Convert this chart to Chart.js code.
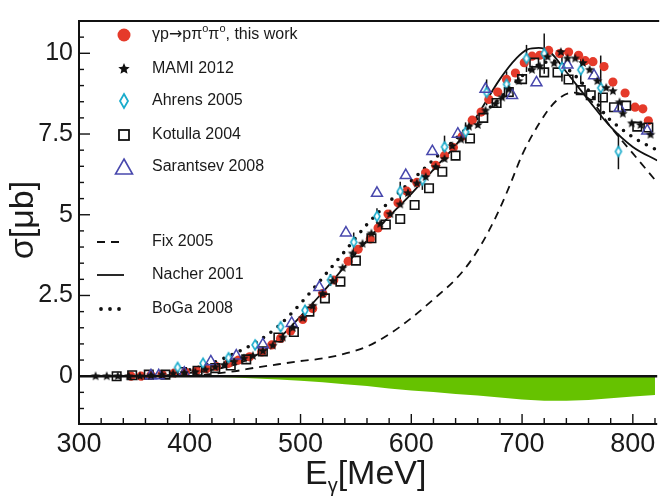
<!DOCTYPE html>
<html>
<head>
<meta charset="utf-8">
<script src="https://cdn.jsdelivr.net/npm/chart.js@4"></script>
<style>
  html, body { margin: 0; padding: 0; background: #fff; }
</style>
</head>
<body>
<canvas id="c" width="665" height="497"></canvas>
<script>
// ── Data ───────────────────────────────────────────────────
const thisWorkE = [347, 356, 365, 375, 386, 396, 406, 415, 424, 435, 444, 454, 465, 474, 482, 491, 502, 511, 520, 530,
  543, 552, 563, 570, 579, 588, 596, 605, 613, 622, 630, 638, 646, 655, 663, 670, 678, 686, 694, 702,
  709, 716, 724, 734, 742, 751, 757, 764, 774, 782, 793, 802, 809, 814];
const thisWorkS = [0, 0, 0.03, 0.05, 0.1, 0.13, 0.17, 0.23, 0.3, 0.4, 0.5, 0.6, 0.75, 0.97, 1.17, 1.4, 1.76, 2.1, 2.56, 2.98,
  3.56, 3.93, 4.25, 4.59, 5.02, 5.37, 5.73, 6.0, 6.3, 6.53, 6.83, 7.08, 7.43, 7.93, 8.18, 8.57, 8.8, 9.19, 9.39, 9.71,
  9.91, 9.94, 10.09, 9.99, 10.04, 9.94, 9.77, 9.74, 9.59, 9.11, 8.77, 8.33, 8.28, 7.91];

const mamiE = [315, 325, 335, 345, 355, 365, 375, 385, 395, 405, 414, 423, 431, 440, 449, 457, 466, 475, 484, 493,
  502, 511, 520, 529, 538, 547, 556, 564, 572, 581, 590, 597, 605, 613, 622, 630, 637, 645, 652, 660,
  667, 676, 682, 688, 697, 709, 716, 723, 729, 735, 741, 748, 755, 761, 768, 776, 782, 788, 791, 799, 807, 816];
const mamiS = [0, 0, 0, 0, 0, 0.02, 0.05, 0.08, 0.1, 0.13, 0.2, 0.28, 0.35, 0.45, 0.55, 0.63, 0.78, 0.95, 1.2, 1.5,
  1.8, 2.18, 2.55, 2.95, 3.35, 3.8, 4.1, 4.42, 4.72, 5.02, 5.32, 5.67, 5.97, 6.17, 6.48, 6.73, 7.13, 7.33, 7.73, 7.78,
  8.23, 8.43, 8.63, 8.88, 9.14, 9.49, 9.6, 9.89, 9.69, 10.04, 9.84, 9.84, 9.7, 9.49, 9.14, 8.93, 8.83, 8.48, 8.13, 7.83, 7.78, 7.48];

const ahrensE = [389, 412, 435, 459, 482, 504, 527, 548, 569, 590, 610, 630, 649, 668, 686, 704, 720, 736, 753, 771, 787];
const ahrensS = [0.27, 0.4, 0.57, 0.97, 1.53, 2.04, 2.98, 4.15, 4.95, 5.72, 6.07, 7.1, 7.56, 8.79, 9.04, 9.84, 9.99, 9.56, 9.49, 8.93, 6.96];
const ahrensErr = [0.05, 0.05, 0.08, 0.1, 0.12, 0.15, 0.18, 0.3, 0.25, 0.3, 0.3, 0.35, 0.3, 0.4, 0.4, 0.42, 0.62, 0.43, 0.45, 1.0, 0.55];

const kotullaE = [334, 348, 363, 378, 393, 407, 423, 437, 451, 466, 480, 494, 508, 522, 536, 550, 564, 577, 590, 603,
  616, 628, 640, 653, 665, 677, 688, 700, 711, 720, 732, 742, 753, 762, 773, 783, 794, 804, 814];
const kotullaS = [0, 0.03, 0.05, 0.05, 0.13, 0.17, 0.25, 0.33, 0.52, 0.77, 1.2, 1.37, 2.0, 2.41, 2.93, 3.58, 4.27, 4.7, 4.87, 5.3,
  5.82, 6.33, 6.83, 7.36, 8.0, 8.46, 8.8, 9.2, 9.71, 9.41, 9.41, 9.19, 8.86, 8.7, 8.63, 8.33, 8.38, 7.73, 7.7];

const sarantsevE = [365, 372, 395, 419, 442, 466, 492, 517, 541, 569, 595, 619, 642, 667, 691, 713, 741, 765, 788, 813];
const sarantsevS = [0.02, 0.02, 0.1, 0.45, 0.63, 0.98, 1.64, 2.75, 4.44, 5.67, 6.22, 6.96, 7.5, 8.89, 8.7, 9.09, 9.64, 9.31, 8.3, 7.6];

// theory curves
const fixE = [400, 420, 440, 460, 480, 500, 520, 540, 560, 580, 600, 620, 640, 650, 660, 670, 680, 690, 700, 715, 730, 745, 755, 765, 780, 800, 822];
const fixS = [0.0, 0.07, 0.15, 0.27, 0.37, 0.47, 0.55, 0.7, 0.92, 1.3, 1.8, 2.38, 3.0, 3.4, 3.9, 4.5, 5.2, 6.0, 6.85, 7.8, 8.5, 8.78, 8.72, 8.43, 7.72, 6.9, 6.0];

const nacherE = [300, 340, 380, 400, 420, 440, 460, 480, 500, 520, 540, 560, 580, 600, 620, 640, 660, 680, 695, 705, 715, 725, 740, 760, 780, 800, 822];
const nacherS = [0, 0, 0.03, 0.1, 0.2, 0.35, 0.65, 1.15, 1.85, 2.6, 3.4, 4.2, 4.95, 5.65, 6.4, 7.15, 8.1, 9.2, 9.85, 10.12, 10.17, 10.05, 9.42, 8.55, 7.72, 7.1, 6.68];

const bogaE = [400, 420, 440, 460, 480, 500, 520, 540, 560, 580, 600, 620, 640, 660, 680, 700, 715, 730, 745, 760, 775, 790, 805, 822];
const bogaS = [0.2, 0.4, 0.7, 1.05, 1.55, 2.25, 3.05, 3.87, 4.7, 5.4, 6.05, 6.7, 7.35, 8.0, 8.6, 9.3, 9.65, 9.75, 9.4, 8.85, 8.1, 7.65, 7.3, 7.0];

// systematic error band
const sysE = [400, 420, 440, 460, 480, 500, 520, 540, 560, 580, 600, 620, 640, 660, 680, 700, 720, 740, 760, 780, 800, 820];
const sysS = [0, -0.02, -0.04, -0.07, -0.1, -0.14, -0.19, -0.25, -0.3, -0.38, -0.44, -0.49, -0.55, -0.6, -0.66, -0.72, -0.76, -0.76, -0.74, -0.68, -0.63, -0.58];

const xTicks = [300, 400, 500, 600, 700, 800];
const xTickLabels = ['300', '400', '500', '600', '700', '800'];
const yTicks = [0, 2.5, 5, 7.5, 10];
const yTickLabels = ['0', '2.5', '5', '7.5', '10'];

const FONT = '"Liberation Sans", Arial, Helvetica, sans-serif';
const RED = '#e53a2a';
const CYAN = '#1aaccc';
const BLUE = '#4848ad';
const GREEN = '#66c200';

const pts = (xs, ys) => xs.map((x, i) => ({ x, y: ys[i] }));

// ── Marker images ──────────────────────────────────────────
function starImage(outer, color) {
  const s = Math.ceil(outer * 2 + 2);
  const c = document.createElement('canvas');
  c.width = c.height = s;
  const g = c.getContext('2d');
  g.fillStyle = color;
  g.beginPath();
  for (let i = 0; i < 10; i++) {
    const r = i % 2 ? outer * 0.45 : outer;
    const a = -Math.PI / 2 + i * Math.PI / 5;
    g.lineTo(s / 2 + r * Math.cos(a), s / 2 + r * Math.sin(a));
  }
  g.closePath();
  g.fill();
  return c;
}

function diamondImage(w, h, color, lw) {
  const c = document.createElement('canvas');
  c.width = Math.ceil(w + lw * 2 + 2);
  c.height = Math.ceil(h + lw * 2 + 2);
  const g = c.getContext('2d');
  const cx = c.width / 2, cy = c.height / 2;
  g.beginPath();
  g.moveTo(cx, cy - h / 2);
  g.lineTo(cx + w / 2, cy);
  g.lineTo(cx, cy + h / 2);
  g.lineTo(cx - w / 2, cy);
  g.closePath();
  g.fillStyle = '#fff';
  g.fill();
  g.strokeStyle = color;
  g.lineWidth = lw;
  g.stroke();
  return c;
}

const starData = starImage(5, '#111');
const starLegend = starImage(6, '#111');
const diaData = diamondImage(6, 10, CYAN, 1.6);
const diaLegend = diamondImage(8, 14, CYAN, 1.8);

// ── Plugins ────────────────────────────────────────────────
const errorBars = {
  id: 'errorBars',
  beforeDatasetsDraw(chart) {
    const { ctx, scales: { x, y } } = chart;
    ctx.save();
    ctx.strokeStyle = '#111';
    ctx.lineWidth = 1.5;
    ahrensE.forEach((e, i) => {
      const px = x.getPixelForValue(e);
      ctx.beginPath();
      ctx.moveTo(px, y.getPixelForValue(ahrensS[i] - ahrensErr[i]));
      ctx.lineTo(px, y.getPixelForValue(ahrensS[i] + ahrensErr[i]));
      ctx.stroke();
    });
    ctx.restore();
  },
};

const frame = {
  id: 'frame',
  afterDatasetsDraw(chart) {
    const { ctx, chartArea: a, scales: { x, y } } = chart;
    const seg = (x1, y1, x2, y2) => { ctx.beginPath(); ctx.moveTo(x1, y1); ctx.lineTo(x2, y2); ctx.stroke(); };
    ctx.save();
    ctx.strokeStyle = '#111';
    ctx.lineWidth = 2.5;
    const y0 = y.getPixelForValue(0);
    seg(a.left, y0, a.right, y0);
    ctx.lineWidth = 2;
    seg(a.left, a.top, a.left, a.bottom);
    seg(a.left - 1, a.bottom, a.right, a.bottom);
    seg(a.left - 1, a.top, a.right + 2, a.top);
    ctx.lineWidth = 1.4;
    for (let v = 300; v <= x.max; v += 20) {
      const px = x.getPixelForValue(v);
      seg(px, a.bottom, px, a.bottom - (v % 100 === 0 ? 10 : 6));
    }
    for (let k = -2; k <= 22; k++) {
      const v = k * 0.5;
      if (v < y.min || v > y.max) continue;
      const py = y.getPixelForValue(v);
      seg(a.left, py, a.left + (k % 5 === 0 ? 11 : 5), py);
    }
    ctx.restore();
  },
};

const legendAndTitles = {
  id: 'legendAndTitles',
  afterDraw(chart) {
    const { ctx } = chart;
    ctx.save();
    ctx.fillStyle = '#1a1a1a';
    ctx.textBaseline = 'middle';
    ctx.textAlign = 'left';
    const mx = 124, tx = 152;
    const f = (s, fam = FONT) => `${s}px ${fam}`;

    // row 1: this work (with superscripts)
    ctx.fillStyle = RED;
    ctx.beginPath(); ctx.arc(mx, 35, 6.5, 0, Math.PI * 2); ctx.fill();
    ctx.fillStyle = '#1a1a1a';
    let cx = tx;
    const pieces = [['γp', 16, 0, FONT], ['→', 16, 0, '"DejaVu Sans", sans-serif'], ['pπ', 16, 0, FONT], ['o', 11, -6, FONT],
      ['π', 16, 0, FONT], ['o', 11, -6, FONT], [', this work', 16, 0, FONT]];
    pieces.forEach(([t, s, dy, fam]) => {
      ctx.font = f(s, fam);
      ctx.fillText(t, cx, 35 + dy);
      cx += ctx.measureText(t).width;
    });

    ctx.font = f(16);
    ctx.drawImage(starLegend, mx - starLegend.width / 2, 69 - starLegend.height / 2);
    ctx.fillText('MAMI 2012', tx, 69);
    ctx.drawImage(diaLegend, mx - diaLegend.width / 2, 101 - diaLegend.height / 2);
    ctx.fillText('Ahrens 2005', tx, 101);
    ctx.strokeStyle = '#111'; ctx.lineWidth = 1.8;
    ctx.strokeRect(mx - 5, 135 - 5, 10, 10);
    ctx.fillText('Kotulla 2004', tx, 135);
    ctx.strokeStyle = BLUE; ctx.lineWidth = 1.6;
    ctx.beginPath(); ctx.moveTo(mx, 159); ctx.lineTo(mx + 8.5, 174); ctx.lineTo(mx - 8.5, 174); ctx.closePath(); ctx.stroke();
    ctx.fillText('Sarantsev 2008', tx, 167);

    ctx.strokeStyle = '#111';
    ctx.lineWidth = 1.8; ctx.setLineDash([8, 6]);
    ctx.beginPath(); ctx.moveTo(97, 242); ctx.lineTo(124, 242); ctx.stroke();
    ctx.fillText('Fix 2005', tx, 242);
    ctx.setLineDash([]);
    ctx.beginPath(); ctx.moveTo(97, 275); ctx.lineTo(124, 275); ctx.stroke();
    ctx.fillText('Nacher 2001', tx, 275);
    ctx.fillStyle = '#111';
    [101, 110, 119].forEach((d) => { ctx.beginPath(); ctx.arc(d, 309, 1.9, 0, Math.PI * 2); ctx.fill(); });
    ctx.fillStyle = '#1a1a1a';
    ctx.fillText('BoGa 2008', tx, 309);

    // axis titles
    ctx.textBaseline = 'alphabetic';
    ctx.font = f(34);
    ctx.fillText('E', 305, 484);
    let ex = 305 + ctx.measureText('E').width;
    ctx.font = f(20);
    ctx.fillText('γ', ex, 492);
    ex += ctx.measureText('γ').width;
    ctx.font = f(34);
    ctx.fillText('[MeV]', ex, 484);

    ctx.translate(24, 220);
    ctx.rotate(-Math.PI / 2);
    ctx.textAlign = 'center';
    ctx.textBaseline = 'middle';
    ctx.font = f(34);
    ctx.fillText('σ[μb]', 0, 0);
    ctx.restore();
  },
};

// ── Chart ──────────────────────────────────────────────────
new Chart(document.getElementById('c').getContext('2d'), {
  type: 'line',
  data: {
    datasets: [
      { label: 'sys', data: pts(sysE, sysS), order: 10, fill: 'origin', backgroundColor: GREEN,
        borderWidth: 0, pointRadius: 0, tension: 0 },
      { label: 'Fix 2005', data: pts(fixE, fixS), order: 9, borderColor: '#111', borderWidth: 1.8,
        borderDash: [8, 6], pointRadius: 0, cubicInterpolationMode: 'monotone', fill: false },
      { label: 'Nacher 2001', data: pts(nacherE, nacherS), order: 8, borderColor: '#111', borderWidth: 1.8,
        pointRadius: 0, cubicInterpolationMode: 'monotone', fill: false },
      { label: 'BoGa 2008', data: pts(bogaE, bogaS), order: 7, borderColor: '#111', borderWidth: 3.6,
        borderDash: [0, 9], borderCapStyle: 'round', pointRadius: 0, cubicInterpolationMode: 'monotone', fill: false },
      { label: 'this work', data: pts(thisWorkE, thisWorkS), order: 6, showLine: false, pointStyle: 'circle',
        pointRadius: 4.6, pointBackgroundColor: RED, pointBorderWidth: 0 },
      { label: 'Kotulla 2004', data: pts(kotullaE, kotullaS), order: 5, showLine: false, pointStyle: 'rect',
        pointRadius: 6, pointBackgroundColor: 'rgba(0,0,0,0)', pointBorderColor: '#111', pointBorderWidth: 1.6 },
      { label: 'Ahrens 2005', data: pts(ahrensE, ahrensS), order: 4, showLine: false, pointStyle: diaData,
        pointRadius: 4 },
      { label: 'Sarantsev 2008', data: pts(sarantsevE, sarantsevS), order: 3, showLine: false, pointStyle: 'triangle',
        pointRadius: 6.3, pointBackgroundColor: 'rgba(0,0,0,0)', pointBorderColor: BLUE, pointBorderWidth: 1.5 },
      { label: 'MAMI 2012', data: pts(mamiE, mamiS), order: 2, showLine: false, pointStyle: starData,
        pointRadius: 4 },
    ],
  },
  options: {
    responsive: false,
    animation: false,
    layout: { padding: { top: 10, right: 1, left: 0, bottom: 0 } },
    plugins: { legend: { display: false }, tooltip: { enabled: false } },
    scales: {
      x: {
        type: 'linear', min: 300, max: 822,
        grid: { display: false, drawTicks: false }, border: { display: false },
        afterBuildTicks: (s) => { s.ticks = xTicks.map((v) => ({ value: v })); },
        afterFit: (s) => { s.height = 73; },
        ticks: { color: '#1a1a1a', font: { family: FONT, size: 27 }, padding: 4, maxRotation: 0,
          callback: (v) => xTickLabels[xTicks.indexOf(v)] },
      },
      y: {
        type: 'linear', min: -1.48, max: 11.0,
        grid: { display: false, drawTicks: false }, border: { display: false },
        afterBuildTicks: (s) => { s.ticks = yTicks.map((v) => ({ value: v })); },
        afterFit: (s) => { s.width = 79; },
        ticks: { color: '#1a1a1a', font: { family: FONT, size: 25 }, padding: 6,
          callback: (v) => yTickLabels[yTicks.indexOf(v)] },
      },
    },
  },
  plugins: [errorBars, frame, legendAndTitles],
});
</script>
</body>
</html>
